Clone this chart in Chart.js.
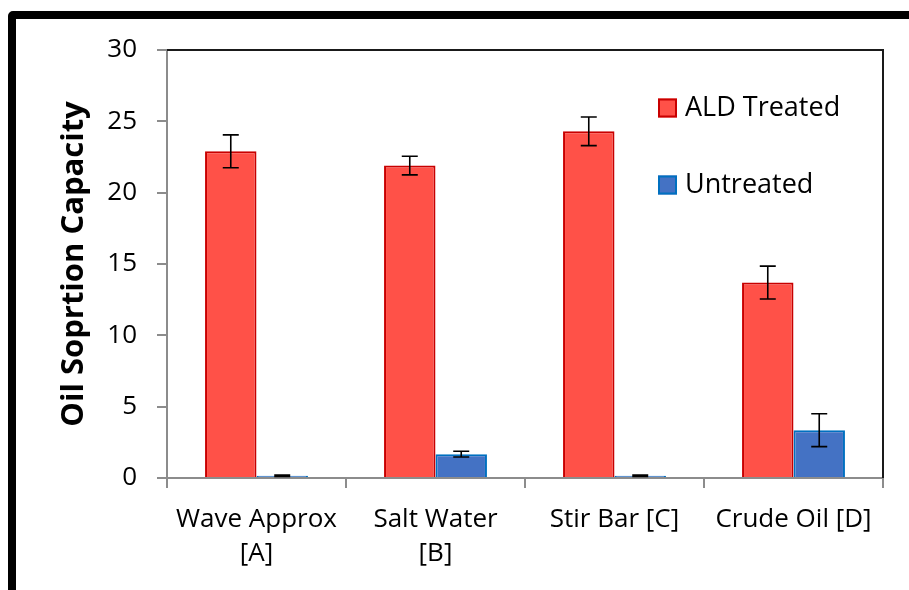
<!DOCTYPE html>
<html>
<head>
<meta charset="utf-8">
<script src="https://cdn.jsdelivr.net/npm/chart.js@4/dist/chart.umd.min.js"></script>
<style>
  html, body { margin: 0; padding: 0; background: #fff; overflow: hidden; }
  #frame { position: absolute; left: 8px; top: 11px; width: 1000px; height: 700px;
           border: 8px solid #000; border-radius: 5px; box-sizing: border-box; }
  #wrap { position: absolute; left: 0; top: 0; width: 909px; height: 590px; }
</style>
</head>
<body>
<div id="frame"></div>
<div id="wrap"><canvas id="c"></canvas></div>
<script>
const categories = [["Wave Approx", "[A]"], ["Salt Water", "[B]"], "Stir Bar [C]", "Crude Oil [D]"];
const seriesNames = ["ALD Treated", "Untreated"];
const aldTreated = [22.9, 21.9, 24.3, 13.7];
const aldTreatedErr = [1.15, 0.65, 1.0, 1.15];
const untreated = [0.15, 1.67, 0.15, 3.35];
const untreatedErr = [0.05, 0.2, 0.05, 1.15];
const yTicks = [0, 5, 10, 15, 20, 25, 30];

const FONT = "'Open Sans', sans-serif";

const errorBarPlugin = {
  id: 'errorBars',
  afterDatasetsDraw(chart) {
    const ctx = chart.ctx;
    const ys = chart.scales.y;
    ctx.save();
    ctx.strokeStyle = '#000';
    ctx.lineWidth = 1.6;
    chart.data.datasets.forEach((ds, di) => {
      const meta = chart.getDatasetMeta(di);
      meta.data.forEach((bar, i) => {
        const v = ds.data[i], e = ds.errors[i];
        const yt = ys.getPixelForValue(v + e);
        const yb = ys.getPixelForValue(v - e);
        const x = bar.x, cw = 8;
        ctx.beginPath();
        ctx.moveTo(x, yt); ctx.lineTo(x, yb);
        ctx.moveTo(x - cw, yt); ctx.lineTo(x + cw, yt);
        ctx.moveTo(x - cw, yb); ctx.lineTo(x + cw, yb);
        ctx.stroke();
      });
    });
    ctx.restore();
  }
};

const boxPlugin = {
  id: 'boxLines',
  afterDraw(chart) {
    const {left, top, right, bottom} = chart.chartArea;
    const ctx = chart.ctx;
    ctx.save();
    ctx.strokeStyle = '#1a1a1a';
    ctx.lineWidth = 2;
    ctx.beginPath();
    ctx.moveTo(left, top); ctx.lineTo(right, top); ctx.lineTo(right, bottom);
    ctx.stroke();
    ctx.restore();
  }
};

const legendPlugin = {
  id: 'insideLegend',
  afterDraw(chart) {
    const ctx = chart.ctx;
    const ca = chart.chartArea;
    const x0 = ca.right - 225;
    const rows = [ca.top + 58, ca.top + 135];
    ctx.save();
    chart.data.datasets.forEach((ds, i) => {
      const yc = rows[i];
      ctx.fillStyle = ds.backgroundColor;
      ctx.fillRect(x0, yc - 9.5, 19, 19);
      ctx.strokeStyle = ds.borderColor;
      ctx.lineWidth = 2;
      ctx.strokeRect(x0 + 1, yc - 8.5, 17, 17);
      ctx.fillStyle = '#000';
      ctx.font = "27px " + FONT;
      ctx.textBaseline = 'middle';
      ctx.textAlign = 'left';
      ctx.fillText(ds.label, x0 + 27, yc);
    });
    ctx.restore();
  }
};

new Chart(document.getElementById('c'), {
  type: 'bar',
  data: {
    labels: categories,
    datasets: [
      { label: seriesNames[0], data: aldTreated, errors: aldTreatedErr,
        backgroundColor: '#FF5148', borderColor: '#C80000', borderWidth: 2,
        categoryPercentage: 0.575, barPercentage: 1.0 },
      { label: seriesNames[1], data: untreated, errors: untreatedErr,
        backgroundColor: '#4472C4', borderColor: '#0070C0', borderWidth: 2,
        categoryPercentage: 0.575, barPercentage: 1.0 }
    ]
  },
  options: {
    responsive: true,
    maintainAspectRatio: false,
    animation: false,
    layout: { padding: { left: 0, top: 50, right: 26, bottom: 0 } },
    plugins: { legend: { display: false }, tooltip: { enabled: false } },
    scales: {
      x: {
        grid: { display: true, offset: true, drawOnChartArea: false, drawTicks: true,
                tickLength: 10, color: '#8c8c8c', lineWidth: 2 },
        border: { display: true, color: '#8c8c8c', width: 2 },
        ticks: { color: '#000', padding: 14, maxRotation: 0, autoSkip: false,
                 font: { family: FONT, size: 26, lineHeight: 1.32 } },
        afterFit(s) { s.height = 112; }
      },
      y: {
        min: 0, max: 30,
        afterBuildTicks(s) { s.ticks = yTicks.map(v => ({ value: v })); },
        grid: { display: true, drawOnChartArea: false, drawTicks: true,
                tickLength: 10, color: '#8c8c8c', lineWidth: 2 },
        border: { display: true, color: '#8c8c8c', width: 2 },
        ticks: { color: '#000', padding: 20,
                 font: { family: FONT, size: 26 } },
        title: { display: true, text: 'Oil Soprtion Capacity', color: '#000',
                 padding: { top: 56, bottom: 0 },
                 font: { family: FONT, size: 31, weight: 'bold', lineHeight: 1.2 } },
        afterFit(s) { s.width = 167; }
      }
    }
  },
  plugins: [errorBarPlugin, boxPlugin, legendPlugin]
});
</script>
</body>
</html>
